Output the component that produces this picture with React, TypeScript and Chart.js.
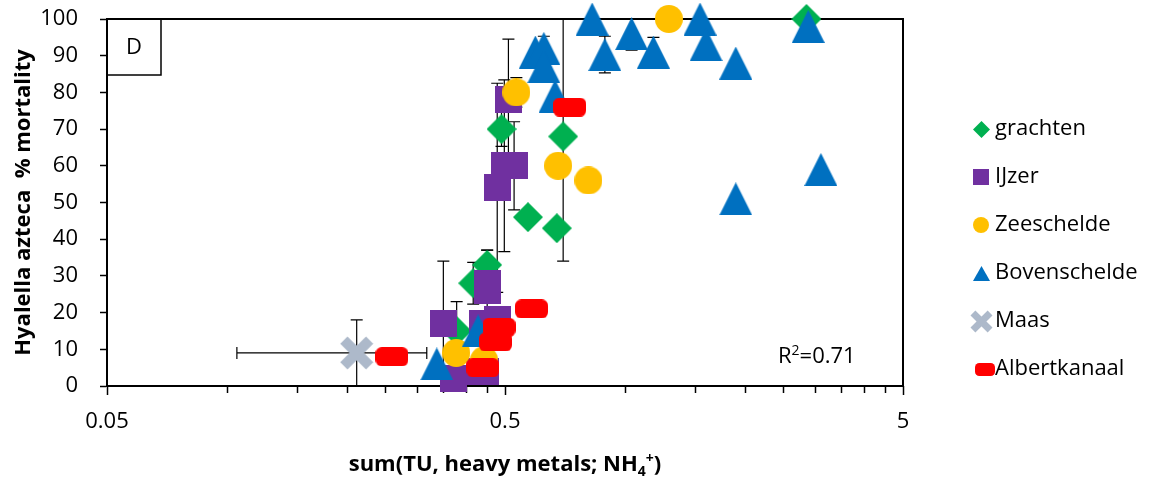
import React, { useEffect, useRef } from 'react';
import { Chart, registerables } from 'chart.js';

Chart.register(...registerables);

const seriesNames = ['grachten', 'IJzer', 'Zeeschelde', 'Bovenschelde', 'Maas', 'Albertkanaal'];
const seriesColors = ['#00B050', '#7030A0', '#FFC000', '#0070C0', '#ADB9CA', '#FF0000'];

const grachtenX = [2.86, 0.70, 0.49, 0.571, 0.675, 0.451, 0.416, 0.378];
const grachtenY = [100, 68, 70, 46, 43, 33, 28, 15];
const grachtenYErr = [0, 34, 4.7, 0, 0, 4, 5.7, 8];

const ijzerX = [0.51, 0.498, 0.527, 0.478, 0.35, 0.451, 0.453, 0.438, 0.48, 0.371, 0.434, 0.447];
const ijzerY = [78, 60, 60, 54, 17, 28, 26, 17, 18, 2, 4, 4];
const ijzerYErr = [16.5, 23.4, 12, 28.5, 17, 9, 0, 0, 0, 0, 0, 0];

const zeescheldeX = [1.29, 0.534, 0.68, 0.81, 0.377, 0.443];
const zeescheldeY = [100, 80, 60, 56, 9, 7];
const zeescheldeYErr = [0, 4, 0, 0, 0, 0];

const bovenscheldeX = [0.828, 1.04, 0.891, 1.18, 1.545, 1.6, 1.9, 2.89, 3.11, 1.9, 0.596, 0.626, 0.626, 0.668, 0.337, 0.428];
const bovenscheldeY = [100, 96, 90.3, 91, 100, 93, 88, 98, 59, 51, 91, 92, 87, 79, 6, 15];
const bovenscheldeYErr = [0, 4.5, 5, 4, 0, 0, 0, 0, 0, 0, 0, 3.3, 0, 0, 0, 0];

const maasX = [0.212];
const maasY = [9];
const maasYErr = [9];
const maasXErr = [0.106];

const albertkanaalX = [0.26, 0.727, 0.583, 0.483, 0.473, 0.44];
const albertkanaalY = [8, 76, 21, 16, 12, 5];

const xTickValues = [0.05, 0.1, 0.15, 0.2, 0.25, 0.3, 0.35, 0.4, 0.45, 0.5, 1, 1.5, 2, 2.5, 3, 3.5, 4, 4.5, 5];
const xMajorValues = [0.05, 0.5, 5];
const xMajorLabels = ['0.05', '0.5', '5'];
const yMin = 0;
const yMax = 100;
const yStep = 10;

const panelLabel = 'D';
const rSquaredBase = 'R';
const rSquaredSup = '2';
const rSquaredRest = '=0.71';
const yTitle = 'Hyalella azteca  % mortality';
const xTitleMain = 'sum(TU, heavy metals; NH';
const xTitleSub = '4';
const xTitleSup = '+';
const xTitleEnd = ')';

const FONT = '"Open Sans", "Noto Sans", sans-serif';

function makeMarker(kind: string, color: string, w: number, h: number): HTMLCanvasElement {
  const c = document.createElement('canvas');
  c.width = w;
  c.height = h;
  const g = c.getContext('2d')!;
  g.fillStyle = color;
  g.strokeStyle = color;
  g.beginPath();
  if (kind === 'diamond') {
    g.moveTo(w / 2, 0); g.lineTo(w, h / 2); g.lineTo(w / 2, h); g.lineTo(0, h / 2); g.closePath(); g.fill();
  } else if (kind === 'square') {
    g.fillRect(0, 0, w, h);
  } else if (kind === 'circle') {
    g.arc(w / 2, h / 2, w / 2, 0, Math.PI * 2); g.fill();
  } else if (kind === 'triangle') {
    g.moveTo(w / 2, 0); g.lineTo(w, h); g.lineTo(0, h); g.closePath(); g.fill();
  } else if (kind === 'cross') {
    const t = w * 0.3;
    const i = (t / 2) * Math.SQRT1_2 + 0.5;
    g.lineWidth = t; g.lineCap = 'butt';
    g.moveTo(i, i); g.lineTo(w - i, h - i);
    g.moveTo(w - i, i); g.lineTo(i, h - i);
    g.stroke();
  } else if (kind === 'roundrect') {
    const r = h * 0.33;
    (g as any).roundRect(0, 0, w, h, r); g.fill();
  }
  return c;
}

const markerKinds = ['diamond', 'square', 'circle', 'triangle', 'cross', 'roundrect'];
const plotMarkerSizes = [[30, 30], [27, 27], [28, 28], [33, 33], [34, 34], [33, 19]];
const legendMarkerSizes = [[17, 17], [16, 16], [16, 16], [17, 15], [23, 23], [20, 13]];

export default function App() {
  const ref = useRef<HTMLCanvasElement>(null);

  useEffect(() => {
    const canvas = ref.current!;
    const plotMarkers = markerKinds.map((k, i) => makeMarker(k, seriesColors[i], plotMarkerSizes[i][0], plotMarkerSizes[i][1]));
    const legendMarkers = markerKinds.map((k, i) => makeMarker(k, seriesColors[i], legendMarkerSizes[i][0], legendMarkerSizes[i][1]));

    const seriesX = [grachtenX, ijzerX, zeescheldeX, bovenscheldeX, maasX, albertkanaalX];
    const seriesY = [grachtenY, ijzerY, zeescheldeY, bovenscheldeY, maasY, albertkanaalY];
    const seriesYErr = [grachtenYErr, ijzerYErr, zeescheldeYErr, bovenscheldeYErr, maasYErr, null];
    const seriesXErr = [null, null, null, null, maasXErr, null];

    const datasets = seriesNames.map((name, i) => ({
      label: name,
      data: seriesX[i].map((x, j) => ({ x, y: seriesY[i][j] })),
      pointStyle: plotMarkers[i] as any,
      pointRadius: 5,
      showLine: false,
      order: seriesNames.length - i,
      clip: false as any,
    }));

    const customPlugin = {
      id: 'customDraw',
      beforeDatasetsDraw(chart: any) {
        const { ctx, chartArea: a, scales } = chart;
        const xs = scales.x;
        const ys = scales.y;
        ctx.save();
        ctx.strokeStyle = '#000';
        ctx.lineWidth = 2;
        ctx.strokeRect(a.left, a.top, a.right - a.left, a.bottom - a.top);
        // x tick marks
        ctx.lineWidth = 1.5;
        xTickValues.forEach((v) => {
          const px = Math.round(xs.getPixelForValue(v)) + 0.5;
          const major = xMajorValues.some((m) => Math.abs(m - v) < 1e-9);
          ctx.beginPath();
          ctx.moveTo(px, a.bottom);
          ctx.lineTo(px, a.bottom + (major ? 9 : 7));
          ctx.stroke();
        });
        // panel label box
        ctx.lineWidth = 1.5;
        ctx.strokeRect(a.left, a.top, 54, 56);
        ctx.fillStyle = '#000';
        ctx.font = `22px ${FONT}`;
        ctx.textAlign = 'center';
        ctx.textBaseline = 'middle';
        ctx.fillText(panelLabel, a.left + 27, a.top + 29);
        // error bars
        ctx.beginPath();
        ctx.rect(a.left - 1, a.top - 1, a.right - a.left + 2, a.bottom - a.top + 2);
        ctx.clip();
        ctx.strokeStyle = '#000';
        ctx.lineWidth = 1.2;
        const cap = 6;
        seriesNames.forEach((_, i) => {
          const X = seriesX[i];
          const Y = seriesY[i];
          const ye = seriesYErr[i];
          const xe = seriesXErr[i];
          X.forEach((xv, j) => {
            const px = xs.getPixelForValue(xv);
            const py = ys.getPixelForValue(Y[j]);
            if (ye && ye[j] > 0) {
              const y1 = ys.getPixelForValue(Y[j] + ye[j]);
              const y2 = ys.getPixelForValue(Y[j] - ye[j]);
              ctx.beginPath();
              ctx.moveTo(px, y1); ctx.lineTo(px, y2);
              ctx.moveTo(px - cap, y1); ctx.lineTo(px + cap, y1);
              ctx.moveTo(px - cap, y2); ctx.lineTo(px + cap, y2);
              ctx.stroke();
            }
            if (xe && xe[j] > 0) {
              const x1 = xs.getPixelForValue(xv - xe[j]);
              const x2 = xs.getPixelForValue(xv + xe[j]);
              ctx.beginPath();
              ctx.moveTo(x1, py); ctx.lineTo(x2, py);
              ctx.moveTo(x1, py - cap); ctx.lineTo(x1, py + cap);
              ctx.moveTo(x2, py - cap); ctx.lineTo(x2, py + cap);
              ctx.stroke();
            }
          });
        });
        ctx.restore();
      },
      afterDraw(chart: any) {
        const { ctx, chartArea: a } = chart;
        ctx.save();
        ctx.fillStyle = '#000';
        // R squared
        ctx.textAlign = 'left';
        ctx.textBaseline = 'alphabetic';
        ctx.font = `22px ${FONT}`;
        let rx = 778;
        const ry = 363;
        ctx.fillText(rSquaredBase, rx, ry);
        rx += ctx.measureText(rSquaredBase).width;
        ctx.font = `14px ${FONT}`;
        ctx.fillText(rSquaredSup, rx, ry - 8);
        rx += ctx.measureText(rSquaredSup).width;
        ctx.font = `22px ${FONT}`;
        ctx.fillText(rSquaredRest, rx, ry);

        // y title
        ctx.save();
        ctx.translate(30, (a.top + a.bottom) / 2);
        ctx.rotate(-Math.PI / 2);
        ctx.font = `bold 22px ${FONT}`;
        ctx.textAlign = 'center';
        ctx.fillText(yTitle, 0, 0);
        ctx.restore();

        // x title with sub/superscript
        const big = `bold 22px ${FONT}`;
        const small = `bold 14px ${FONT}`;
        ctx.font = big;
        const w1 = ctx.measureText(xTitleMain).width;
        const w4 = ctx.measureText(xTitleEnd).width;
        ctx.font = small;
        const w2 = ctx.measureText(xTitleSub).width;
        const w3 = ctx.measureText(xTitleSup).width;
        const total = w1 + w2 + w3 + w4;
        let tx = (a.left + a.right) / 2 - total / 2;
        const ty = 471;
        ctx.textAlign = 'left';
        ctx.font = big;
        ctx.fillText(xTitleMain, tx, ty);
        tx += w1;
        ctx.font = small;
        ctx.fillText(xTitleSub, tx, ty + 5);
        tx += w2;
        ctx.fillText(xTitleSup, tx, ty - 8);
        tx += w3;
        ctx.font = big;
        ctx.fillText(xTitleEnd, tx, ty);

        // legend
        ctx.font = `22px ${FONT}`;
        ctx.textBaseline = 'middle';
        seriesNames.forEach((name, i) => {
          const cy = 129 + i * 48;
          const m = legendMarkers[i];
          const cx = i === 5 ? 985 : 981;
          ctx.drawImage(m, Math.round(cx - m.width / 2), Math.round(cy - m.height / 2));
          ctx.fillText(name, 995, cy);
        });
        ctx.restore();
      },
    };

    const chart = new Chart(canvas, {
      type: 'scatter',
      data: { datasets: datasets as any },
      options: {
        animation: false,
        responsive: false,
        events: [],
        layout: { padding: { top: 19, right: 246, left: 0, bottom: 0 } },
        plugins: { legend: { display: false }, tooltip: { enabled: false } },
        scales: {
          x: {
            type: 'logarithmic',
            min: 0.05,
            max: 5,
            afterBuildTicks: (s: any) => {
              s.ticks = xTickValues.map((v) => ({ value: v }));
            },
            afterFit: (s: any) => {
              s.height = 95;
              s.paddingLeft = 0;
              s.paddingRight = 0;
            },
            ticks: {
              autoSkip: false,
              maxRotation: 0,
              minRotation: 0,
              padding: 15,
              color: '#000',
              font: { family: FONT, size: 22 },
              callback: (v: any) => {
                const idx = xMajorValues.findIndex((m) => Math.abs(m - Number(v)) < 1e-9);
                return idx >= 0 ? xMajorLabels[idx] : '';
              },
            },
            grid: { display: false },
            border: { display: true, color: '#000', width: 2 },
          },
          y: {
            min: yMin,
            max: yMax,
            afterFit: (s: any) => {
              s.width = 107;
              s.paddingTop = 0;
              s.paddingBottom = 0;
            },
            ticks: {
              stepSize: yStep,
              padding: 22,
              color: '#000',
              font: { family: FONT, size: 22 },
            },
            grid: { drawOnChartArea: false, tickLength: 7, tickColor: '#000', tickWidth: 1.5, color: '#000' },
            border: { display: true, color: '#000', width: 2 },
          },
        },
      } as any,
      plugins: [customPlugin],
    });
    return () => chart.destroy();
  }, []);

  return (
    <div style={{ position: 'fixed', left: 0, top: 0, width: 1149, height: 481, background: '#fff' }}>
      <canvas ref={ref} width={1149} height={481} style={{ display: 'block' }} />
    </div>
  );
}
